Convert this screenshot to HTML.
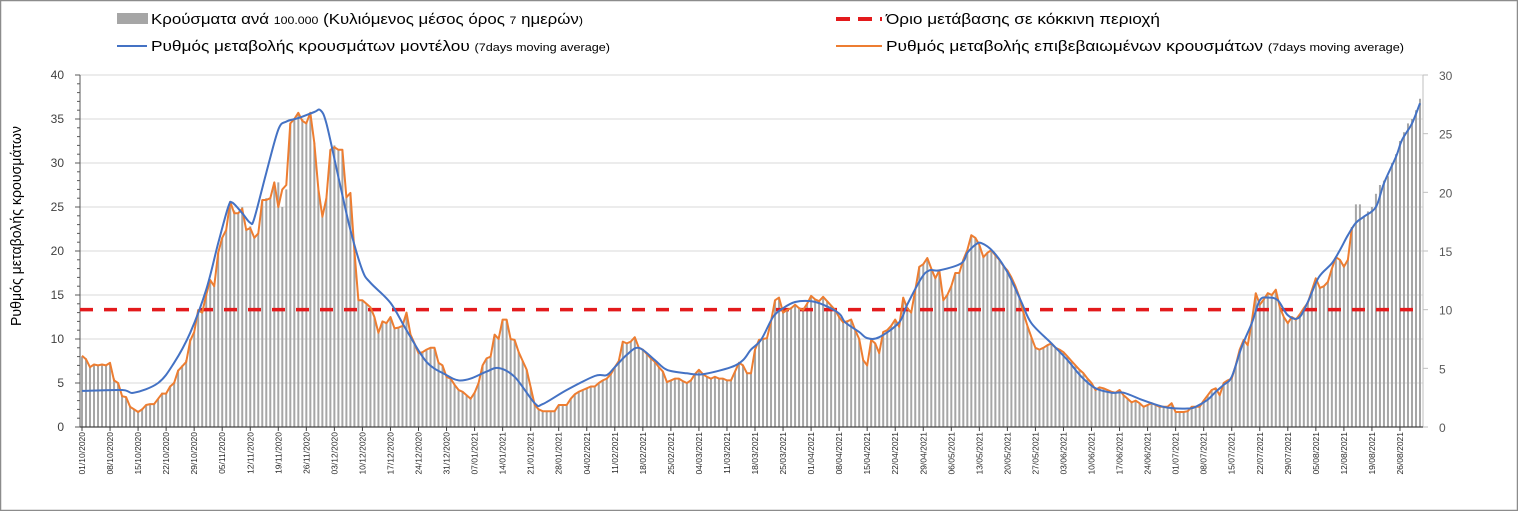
<!DOCTYPE html>
<html><head><meta charset="utf-8">
<style>
html,body{margin:0;padding:0;background:#fff;}
svg{display:block;font-family:"Liberation Sans",sans-serif;}
</style></head>
<body>
<svg id="chart" width="1518" height="511" viewBox="0 0 1518 511" xmlns="http://www.w3.org/2000/svg">
<rect x="0.5" y="0.5" width="1517" height="510" fill="#fff" stroke="#8c8c8c" stroke-width="1.5"/>
<g id="grid"></g>
<g id="bars"></g>
<g id="axes"></g>
<g id="lines"></g>
<text transform="translate(21,226) rotate(-90)" text-anchor="middle" font-size="15" fill="#000" textLength="200" lengthAdjust="spacingAndGlyphs">Ρυθμός μεταβολής κρουσμάτων</text>
<g>
 <g>
  <rect x="117" y="13" width="31" height="11" fill="#a6a6a6"/>
  <text x="151" y="24" font-size="15" fill="#000" textLength="432" lengthAdjust="spacingAndGlyphs">Κρούσματα ανά <tspan font-size="11">100.000</tspan> (Κυλιόμενος μέσος όρος <tspan font-size="11">7</tspan> ημερών<tspan font-size="11">)</tspan></text>
 </g>
 <g>
  <line x1="117" y1="46" x2="147" y2="46" stroke="#4472c4" stroke-width="2"/>
  <text x="151" y="51" font-size="15" fill="#000" textLength="459" lengthAdjust="spacingAndGlyphs">Ρυθμός μεταβολής κρουσμάτων μοντέλου <tspan font-size="11">(7days moving average)</tspan></text>
 </g>
 <g>
  <line x1="836" y1="19" x2="882" y2="19" stroke="#e31a1c" stroke-width="4" stroke-dasharray="14,8"/>
  <text x="886" y="24" font-size="15" fill="#000" textLength="274" lengthAdjust="spacingAndGlyphs">Όριο μετάβασης σε κόκκινη περιοχή</text>
 </g>
 <g>
  <line x1="836" y1="46" x2="882" y2="46" stroke="#ed7d31" stroke-width="2"/>
  <text x="886" y="51" font-size="15" fill="#000" textLength="518" lengthAdjust="spacingAndGlyphs">Ρυθμός μεταβολής επιβεβαιωμένων κρουσμάτων <tspan font-size="11">(7days moving average)</tspan></text>
 </g>
</g>
</svg>
<script>
// daily bar values (cases per 100k, left axis), from 01/10/2020
const barValues = [
8.0,7.8,6.9,7.1,7.0,7.1,7.1, 7.2,5.5,5.0,3.6,3.4,2.4,2.0, 1.7,2.1,2.5,2.6,2.6,3.2,3.9,
3.8,4.6,5.1,6.5,7.0,7.6,10.0, 10.8,13.3,13.2,15.0,16.7,16.0,19.8, 21.5,22.4,25.6,24.6,24.3,25.0,22.4,
22.8,21.5,22.0,25.8,26.0,26.0,27.8, 27.8,25.0,27.0,34.5,35.0,35.7,35.0, 34.5,35.7,32.3,27.0,23.9,26.0,31.5,
32.0,31.5,31.5,26.1,26.6,20.0,14.4, 14.4,14.0,13.6,12.5,10.7,12.0,11.8, 12.5,11.2,11.3,11.5,13.0,10.5,9.5,
8.4,8.5,8.8,9.0,9.0,7.3,7.0, 5.7,5.5,4.8,4.2,4.0,3.6,3.2, 3.9,5.0,7.0,7.8,8.0,10.5,10.0,
12.2,12.2,10.0,9.9,8.5,7.5,6.5, 4.5,2.5,2.0,1.8,1.8,1.8,1.8, 2.5,2.5,2.5,3.2,3.7,4.0,4.2,
4.4,4.6,4.6,5.0,5.3,5.5,6.0, 6.8,7.5,9.7,9.5,9.7,10.2,9.0, 8.8,8.3,7.8,7.4,6.8,6.3,5.1,
5.3,5.5,5.5,5.2,5.0,5.3,6.0, 6.5,6.0,5.7,5.5,5.7,5.5,5.5, 5.3,5.3,6.3,7.3,7.0,6.1,6.1,
8.8,9.9,10.0,10.1,12.0,14.4,14.7, 13.0,13.3,13.5,13.9,13.5,13.3,14.0, 14.9,14.5,14.3,14.8,14.3,13.8,13.3,
12.5,11.9,12.0,12.2,11.0,10.0,7.6, 7.0,9.9,9.5,8.4,10.8,11.0,11.5, 12.2,11.4,14.7,13.5,13.0,15.5,18.2,
18.5,19.2,18.0,16.9,17.8,14.4,15.0, 16.0,17.5,17.5,19.0,20.1,21.8,21.5, 20.7,19.3,19.8,20.1,19.5,19.0,18.3,
17.8,17.0,16.0,14.8,13.0,11.5,10.2, 9.0,8.8,9.0,9.3,9.5,9.0,8.8, 8.5,8.0,7.5,7.0,6.5,6.1,5.5,
5.0,4.2,4.5,4.4,4.2,4.0,3.9, 4.2,3.6,3.2,2.8,3.0,2.7,2.3, 2.5,2.7,2.5,2.3,2.3,2.3,2.7,
1.7,1.7,1.7,1.8,2.3,2.3,2.3, 3.0,3.6,4.2,4.4,3.6,5.0,5.3, 5.5,7.0,8.8,9.9,9.3,12.0,15.2,
13.9,14.5,15.2,15.0,15.6,13.6,12.5, 11.8,12.5,12.2,12.8,13.5,14.1,15.5, 16.9,15.8,16.0,16.5,18.0,19.3,19.0,
18.5,19.0,22.7,25.3,25.3,24.0,24.5, 25.0,26.5,27.5,28.0,28.5,30.0,31.0, 32.5,33.5,34.5,35.0,36.0,37.3
];
// confirmed-case rate (orange), daily, ends 13/08/2021
const orangeValues = [
8.1,7.7,6.8,7.1,7.0,7.1,7.0, 7.3,5.3,5.0,3.5,3.4,2.3,2.0, 1.7,2.0,2.5,2.6,2.6,3.2,3.8,
3.8,4.6,5.0,6.4,6.9,7.4,9.8, 10.8,13.3,13.0,15.0,16.7,16.0,19.8, 21.5,22.4,25.6,24.3,24.3,24.8,22.4,
22.6,21.5,22.0,25.8,25.8,26.0,27.8, 25.0,27.0,27.5,34.5,35.0,35.7,34.8, 34.5,35.7,32.3,27.0,23.9,26.0,31.5,
31.8,31.5,31.5,26.1,26.6,20.0,14.4, 14.4,14.0,13.6,12.5,10.7,12.0,11.8, 12.5,11.2,11.3,11.5,13.0,10.5,9.5,
8.4,8.5,8.8,9.0,9.0,7.3,7.0, 5.7,5.5,4.8,4.2,4.0,3.6,3.2, 3.9,5.0,7.0,7.8,8.0,10.5,10.0,
12.2,12.2,10.0,9.9,8.5,7.5,6.5, 4.5,2.5,2.0,1.8,1.8,1.8,1.8, 2.5,2.5,2.5,3.2,3.7,4.0,4.2,
4.4,4.6,4.6,5.0,5.3,5.5,6.0, 6.8,7.5,9.7,9.5,9.7,10.2,9.0, 8.8,8.3,7.8,7.4,6.8,6.3,5.1,
5.3,5.5,5.5,5.2,5.0,5.3,6.0, 6.5,6.0,5.7,5.5,5.7,5.5,5.5, 5.3,5.3,6.3,7.3,7.0,6.1,6.1,
8.8,9.9,10.0,10.1,12.0,14.4,14.7, 13.0,13.3,13.5,13.9,13.5,13.3,14.0, 14.9,14.5,14.3,14.8,14.3,13.8,13.3,
12.5,11.9,12.0,12.2,11.0,10.0,7.6, 7.0,9.9,9.5,8.4,10.8,11.0,11.5, 12.2,11.4,14.7,13.5,13.0,15.5,18.2,
18.5,19.2,18.0,16.9,17.8,14.4,15.0, 16.0,17.5,17.5,19.0,20.1,21.8,21.5, 20.7,19.3,19.8,20.1,19.5,19.0,18.3,
17.8,17.0,16.0,14.8,13.0,11.5,10.2, 9.0,8.8,9.0,9.3,9.5,9.0,8.8, 8.5,8.0,7.5,7.0,6.5,6.1,5.5,
5.0,4.2,4.5,4.4,4.2,4.0,3.9, 4.2,3.6,3.2,2.8,3.0,2.7,2.3, 2.5,2.7,2.5,2.3,2.3,2.3,2.7,
1.7,1.7,1.7,1.8,2.3,2.3,2.3, 3.0,3.6,4.2,4.4,3.6,5.0,5.3, 5.5,7.0,8.8,9.9,9.3,12.0,15.2,
13.9,14.5,15.2,15.0,15.6,13.6,12.5, 11.8,12.5,12.2,12.8,13.5,14.1,15.5, 16.9,15.8,16.0,16.5,18.0,19.3,19.0,
18.2,19.0,22.7
];
// model rate (blue): day index and value
const blueDays = [0,10,13,19,23,27,31,34,36.5,37.5,40,42,43,46,49,51,54,58,59.5,61,64,67,70,72,77,81,86,91,94,97,101,104,108,113,115,121,128,131,133,136,139,143,146,151,155,162,165,167,169.5,172.5,175,178,182,185,189,190.5,194,196,199,204,206,209.5,211.5,214,219.5,221,223,224.5,227.5,231,234.5,237,242,246,249.5,253,257,260,264.5,267,271,276,278,281,283,285,287,289.5,292,294,296,298.5,301,303.7,306,308.7,312,314,316,318,320,323,325,328,329.5,332,334];
const blueValues = [4.1,4.2,3.9,5.0,7.3,10.7,15.6,20.9,25.0,25.5,24.3,23.2,23.7,28.9,33.8,34.7,35.1,35.8,36.0,34.5,28.4,22.4,17.8,16.4,14.1,11.0,7.4,5.9,5.3,5.5,6.3,6.7,5.7,2.7,2.6,4.2,5.8,5.9,6.8,8.2,9.0,7.6,6.5,6.1,6.0,6.8,7.6,8.8,9.9,12.5,13.5,14.2,14.3,13.9,12.9,11.9,10.8,10.1,10.2,11.9,13.9,16.9,17.8,17.8,18.6,19.8,20.7,20.9,19.9,17.6,14.2,11.8,9.5,7.6,5.7,4.4,3.9,3.9,3.1,2.7,2.2,2.1,2.3,3.1,4.0,4.8,5.7,9.1,11.8,14.4,14.7,14.4,12.7,12.4,14.2,17.0,18.6,20.1,21.8,23.2,23.9,25.0,27.7,30.7,32.6,34.5,36.8];
const leftTicks = [0,5,10,15,20,25,30,35,40];
const rightTicks = [0,5,10,15,20,25,30];
const threshold = [10]; // right-axis units
const startDate = [2020,10,1]; // year, month (1-12), day

const NS="http://www.w3.org/2000/svg";
const X0=82, DAYPX=4.006, Y0=427, YTOP=75;
const xAt = d => X0 + d*DAYPX;
const yL = v => Y0 - v*(Y0-YTOP)/40;
const yR = v => Y0 - v*(Y0-YTOP)/30;
function mk(tag, attrs, parent){const e=document.createElementNS(NS,tag);for(const k in attrs)e.setAttribute(k,attrs[k]);parent.appendChild(e);return e;}
const grid=document.getElementById('grid'), bars=document.getElementById('bars'), axes=document.getElementById('axes'), lines=document.getElementById('lines');
const PL=80, PR=1423;

leftTicks.forEach(v=>{
  if(v>0){const g=mk('line',{x1:PL,x2:PR,y1:yL(v),y2:yL(v),stroke:'#d9d9d9','stroke-width':1},grid);
  
  }
  const t=mk('text',{x:64,y:yL(v)+4,'text-anchor':'end','font-size':12,fill:'#404040'},axes);
  t.textContent=v;
  
  
});
for(let v=0; v<=40; v++){ mk('line',{x1:PL-(v%5?3:5),x2:PL,y1:yL(v),y2:yL(v),stroke:'#595959','stroke-width':1},axes); }
rightTicks.forEach(v=>{
  const t=mk('text',{x:1439,y:yR(v)+5,'font-size':12,fill:'#595959'},axes);
  t.textContent=v;
  
  
  mk('line',{x1:PR,x2:PR+5,y1:yR(v),y2:yR(v),stroke:'#bfbfbf'},axes);
});
const la=mk('line',{x1:PL,x2:PL,y1:YTOP,y2:Y0,stroke:'#595959'},axes);


const ra=mk('line',{x1:PR,x2:PR,y1:YTOP,y2:Y0,stroke:'#bfbfbf'},axes);


const xa=mk('line',{x1:PL,x2:PR,y1:Y0,y2:Y0,stroke:'#404040','stroke-width':1.2},axes);



barValues.forEach((v,i)=>{
  const r=mk('rect',{x:xAt(i)-1,y:yL(v),width:2,height:Y0-yL(v),fill:'#a6a6a6'},bars);
  
  
});

const sd=new Date(startDate[0],startDate[1]-1,startDate[2]);
for(let d=0; d<barValues.length; d+=7){
  const dt=new Date(sd.getFullYear(), sd.getMonth(), sd.getDate()+d);
  const lab=String(dt.getDate()).padStart(2,'0')+'/'+String(dt.getMonth()+1).padStart(2,'0')+'/'+dt.getFullYear();
  mk('line',{x1:xAt(d),x2:xAt(d),y1:Y0,y2:Y0+4,stroke:'#404040'},axes);
  const t=mk('text',{transform:`translate(${xAt(d)+3},${Y0+5}) rotate(-90)`,'text-anchor':'end','font-size':8.5,fill:'#262626'},axes);
  t.textContent=lab;
  
  
}

const th=mk('line',{x1:PL,x2:PR,y1:yR(threshold[0]),y2:yR(threshold[0]),stroke:'#e31a1c','stroke-width':3.5,'stroke-dasharray':'13,11'},lines);



const op=orangeValues.map((v,i)=>(i?'L':'M')+xAt(i).toFixed(1)+','+yL(v).toFixed(1)).join('');
const ol=mk('path',{d:op,fill:'none',stroke:'#ed7d31','stroke-width':2,'stroke-linejoin':'round'},lines);



const pts=blueDays.map((d,i)=>[xAt(d),yL(blueValues[i])]);
let bp='M'+pts[0][0].toFixed(1)+','+pts[0][1].toFixed(1);
for(let i=0;i<pts.length-1;i++){
  const p0=pts[Math.max(0,i-1)],p1=pts[i],p2=pts[i+1],p3=pts[Math.min(pts.length-1,i+2)];
  const c1=[p1[0]+(p2[0]-p0[0])/6,p1[1]+(p2[1]-p0[1])/6], c2=[p2[0]-(p3[0]-p1[0])/6,p2[1]-(p3[1]-p1[1])/6];
  bp+=`C${c1[0].toFixed(1)},${c1[1].toFixed(1)} ${c2[0].toFixed(1)},${c2[1].toFixed(1)} ${p2[0].toFixed(1)},${p2[1].toFixed(1)}`;
}
const bl=mk('path',{d:bp,fill:'none',stroke:'#4472c4','stroke-width':2},lines);


</script>
</body></html>
